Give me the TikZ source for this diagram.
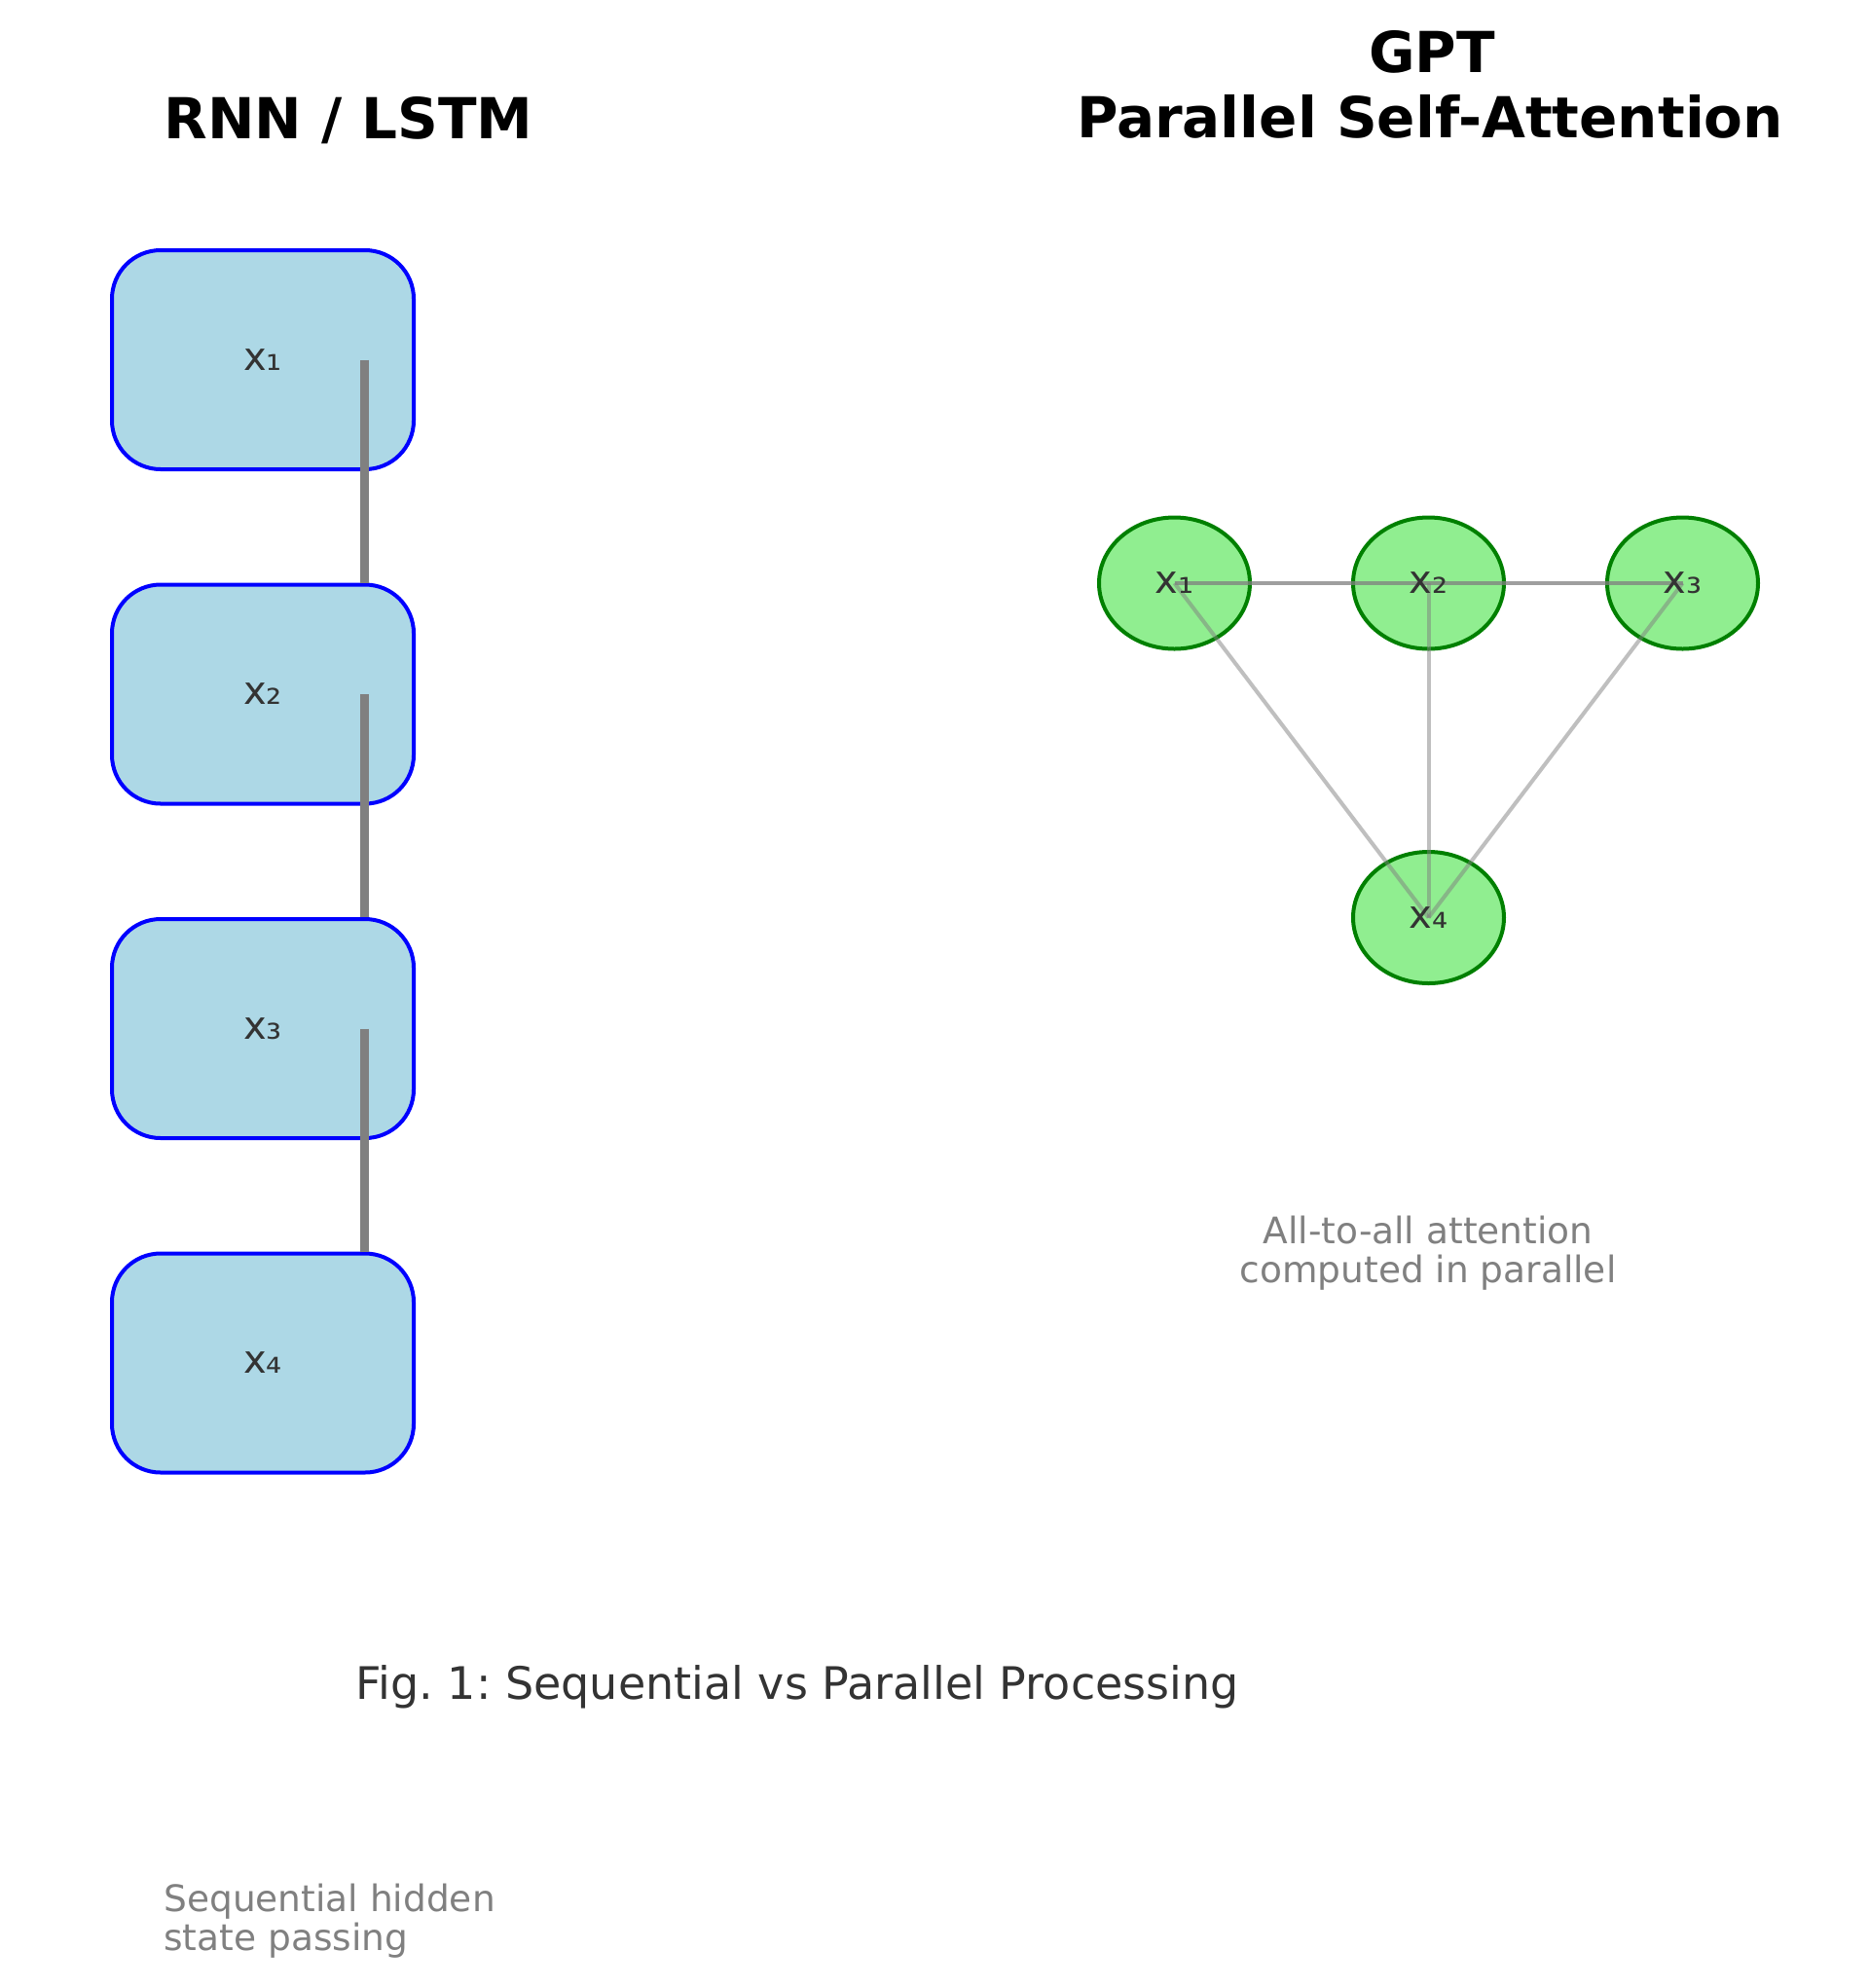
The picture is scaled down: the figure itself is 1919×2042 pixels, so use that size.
\documentclass[tikz,border=0pt]{standalone}
\usepackage{fontspec}
\setmainfont{DejaVu Sans}
\usepackage{tikz}
\usetikzlibrary{shapes.geometric}
\definecolor{boxfill}{HTML}{ADD8E6}
\definecolor{nodefill}{HTML}{90EE90}
\definecolor{txtgray}{HTML}{333333}
\frenchspacing
\begin{document}
\begin{tikzpicture}[x=0.5pt,y=-0.5pt,
  every node/.style={inner sep=0pt},
  rnnbox/.style={draw=blue,fill=boxfill,line width=2pt,rounded corners=25pt,
    minimum width=155pt,minimum height=112.5pt,text=txtgray,font=\fontsize{20}{24}\selectfont},
  attnode/.style={ellipse,draw=green!50!black,fill=nodefill,line width=2pt,
    minimum width=77.5pt,minimum height=67.5pt},
  lbl/.style={text=txtgray,font=\fontsize{20}{24}\selectfont},
  head/.style={font=\fontsize{29}{33}\selectfont\bfseries,anchor=base},
  note/.style={text=gray,font=\fontsize{18.75}{19.75}\selectfont},
  edge/.style={gray,opacity=.5,line width=2pt}]
   \path[use as bounding box,fill=white] (0,0) rectangle (1919,2042);
   % titles
   \node[head] (rnntitle) at (358,142) {RNN / LSTM};
   \node[head] (gpttitle) at (1471,74) {GPT};
   \node[head] (attntitle) at (1469,141) {Parallel Self-Attention};
   % RNN / LSTM chain
   \foreach \i/\y/\s in {1/369.5/₁,2/713/₂,3/1056.5/₃,4/1400/₄}
      \node[rnnbox] (r\i) at (270,\y) {x\s};
   \foreach \i/\j in {1/2,2/3,3/4}
      \draw[gray,line width=4.5pt] ([xshift=52pt]r\i.center) -- ([xshift=52pt]r\j.north);
   % self-attention graph
   \node[attnode] (a1) at (1206.5,599) {};
   \node[attnode] (a2) at (1467.5,599) {};
   \node[attnode] (a3) at (1728.5,599) {};
   \node[attnode] (a4) at (1467.5,942.5) {};
   \foreach \a/\b in {1/2,1/3,1/4,2/3,2/4,3/4}
      \draw[edge] (a\a.center) -- (a\b.center);
   \foreach \i/\s in {1/₁,2/₂,3/₃,4/₄}
      \node[lbl] (al\i) at (a\i) {x\s};
   % notes (base = last line)
   \node[note,align=center,anchor=base] (allnote) at (1467,1317) {All-to-all attention\\computed in parallel};
   \node[note,align=left,anchor=base west] (seqnote) at (168,2003) {Sequential hidden\\state passing};
   \node[text=txtgray,font=\fontsize{23}{27}\selectfont,anchor=base] (caption) at (819,1745) {Fig. 1: Sequential vs Parallel Processing};
\end{tikzpicture}
\end{document}
